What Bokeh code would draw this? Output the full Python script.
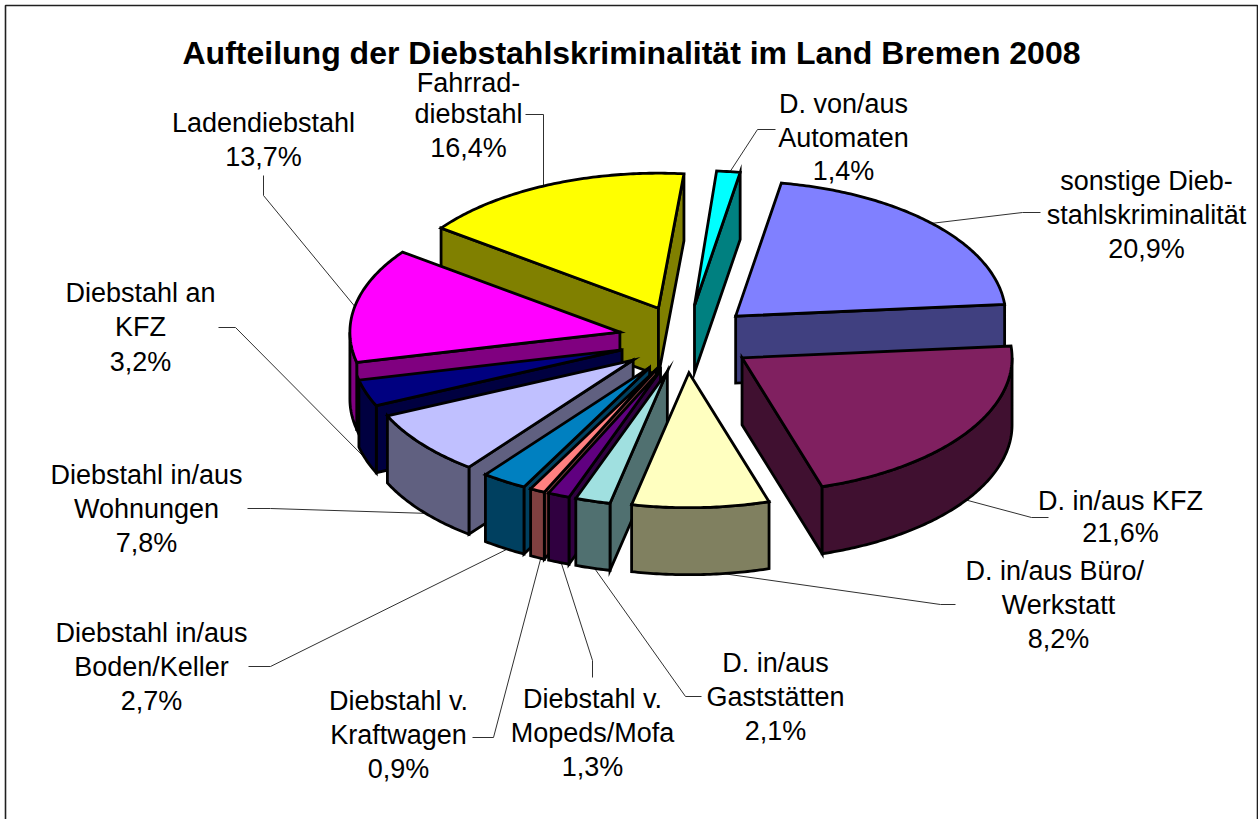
import math
from bokeh.plotting import figure
from bokeh.embed import file_html
from bokeh.resources import INLINE
from bokeh.core.properties import value

TITLE = "Aufteilung der Diebstahlskriminalität im Land Bremen 2008"
names = ["D. von/aus\nAutomaten", "sonstige Dieb-\nstahlskriminalität", "D. in/aus KFZ",
         "D. in/aus  Büro/\nWerkstatt", "D. in/aus\nGaststätten", "Diebstahl v.\nMopeds/Mofa",
         "Diebstahl v.\nKraftwagen", "Diebstahl in/aus\nBoden/Keller", "Diebstahl in/aus\nWohnungen",
         "Diebstahl an\nKFZ", "Ladendiebstahl", "Fahrrad-\ndiebstahl"]
shares = [1.4, 20.9, 21.6, 8.2, 2.1, 1.3, 0.9, 2.7, 7.8, 3.2, 13.7, 16.4]
top_colors = ["#00FFFF", "#8080FF", "#802060", "#FFFFC0", "#A0E0E0", "#600080",
              "#FF8080", "#0080C0", "#C0C0FF", "#000080", "#FF00FF", "#FFFF00"]
side_colors = ["#008080", "#404080", "#401030", "#808060", "#507070", "#300040",
               "#804040", "#004060", "#606080", "#000040", "#800080", "#808000"]

# layout of the projected pie
CX, CY, RX, RY, DEPTH, START = 685.5, 338.5, 270, 135, 67, 4.7
EXPLODE = 0.25

# label centres (x) and line centres (y)
label_pos = [(843, [103, 137, 170]), (1146, [180, 214, 248]), (1120, [500, 532]),
             (1058, [570, 604, 638]), (775, [662, 696, 730]), (592, [698, 732, 766]),
             (398, [700, 734, 768]), (151, [632, 666, 700]), (146, [474, 508, 542]),
             (140, [292, 326, 361]), (263, [122, 156]), (468, [82, 113, 147])]
leaders = [[(775, 129), (757, 129), (729, 172)], [(1040, 212), (1022, 212), (930, 223)],
           [(1048, 517), (1031, 517), (960, 498)], [(955, 604), (940, 604), (715, 572)],
           [(701, 696), (685, 696), (592, 565)], [(592, 677), (592, 660), (560, 560)],
           [(472, 737), (493, 737), (541, 555)], [(248, 666), (270, 666), (510, 547)],
           [(247, 508), (270, 508), (430, 513)], [(218, 327), (235, 327), (366, 459)],
           [(263, 175), (263, 195), (356, 308)], [(525, 114), (543, 114), (543, 190)]]

p = figure(width=1258, height=819, x_range=(0, 1258), y_range=(819, 0), output_backend="svg",
           toolbar_location=None, min_border=0,
           background_fill_color="white", border_fill_color="white", outline_line_color=None)
p.axis.visible = False
p.grid.visible = False

# chart frame (open at the bottom)
p.multi_line([[5, 5, 1257, 1257]], [[819, 5, 5, 819]], line_color="#202020", line_width=1.6)

# leader lines run underneath the pie
p.multi_line([[q[0] for q in l] for l in leaders], [[q[1] for q in l] for l in leaders],
             line_color="#303030", line_width=1)


def pt(t, ox, oy, dz=0.0):
    r = math.radians(t)
    return ox + RX * math.sin(r), oy - RY * math.cos(r) + dz


def arc(a, b, ox, oy, dz=0.0):
    n = max(2, int(abs(b - a) * 1.5))
    return [pt(a + (b - a) * i / n, ox, oy, dz) for i in range(n + 1)]


slices = []
cum = START
for i, s in enumerate(shares):
    a = cum
    b = cum + s * 3.6
    cum = b
    mid = math.radians((a + b) / 2)
    ox = CX + EXPLODE * RX * math.sin(mid)
    oy = CY - EXPLODE * RY * math.cos(mid)
    slices.append((math.cos(mid), i, a, b, ox, oy))

slices.sort(key=lambda r: -r[0])
kw = dict(line_color="black", line_width=2.8, line_join="miter")


def poly(pts, color):
    p.patch([q[0] for q in pts], [q[1] for q in pts], fill_color=color, **kw)


for _, i, a, b, ox, oy in slices:
    side = side_colors[i]
    # visible cut walls
    if math.sin(math.radians(a)) < 0:
        e = pt(a, ox, oy)
        poly([(ox, oy), e, (e[0], e[1] + DEPTH), (ox, oy + DEPTH)], side)
    if math.sin(math.radians(b)) > 0:
        e = pt(b, ox, oy)
        poly([(ox, oy), e, (e[0], e[1] + DEPTH), (ox, oy + DEPTH)], side)
    # outer wall
    lo, hi = max(a, 90), min(b, 270)
    if lo < hi:
        poly(arc(lo, hi, ox, oy) + arc(hi, lo, ox, oy, DEPTH), side)
    # top face
    poly([(ox, oy)] + arc(a, b, ox, oy), top_colors[i])

tx, ty, tt = [], [], []
for i, (x, ys) in enumerate(label_pos):
    lines = names[i].split("\n") + [f"{shares[i]:.1f}%".replace(".", ",")]
    for y, line in zip(ys, lines):
        tx.append(x)
        ty.append(y)
        tt.append(line)
p.text(tx, ty, text=tt, text_font=value("Liberation Sans"), text_font_size="27px", text_align="center",
       text_baseline="middle", text_color="black")
p.text([631], [52], text=[TITLE], text_font=value("Liberation Sans"), text_font_style="bold",
       text_font_size="32px", text_align="center", text_baseline="middle", text_color="black")

open("out.html", "w").write(file_html(p, INLINE))
